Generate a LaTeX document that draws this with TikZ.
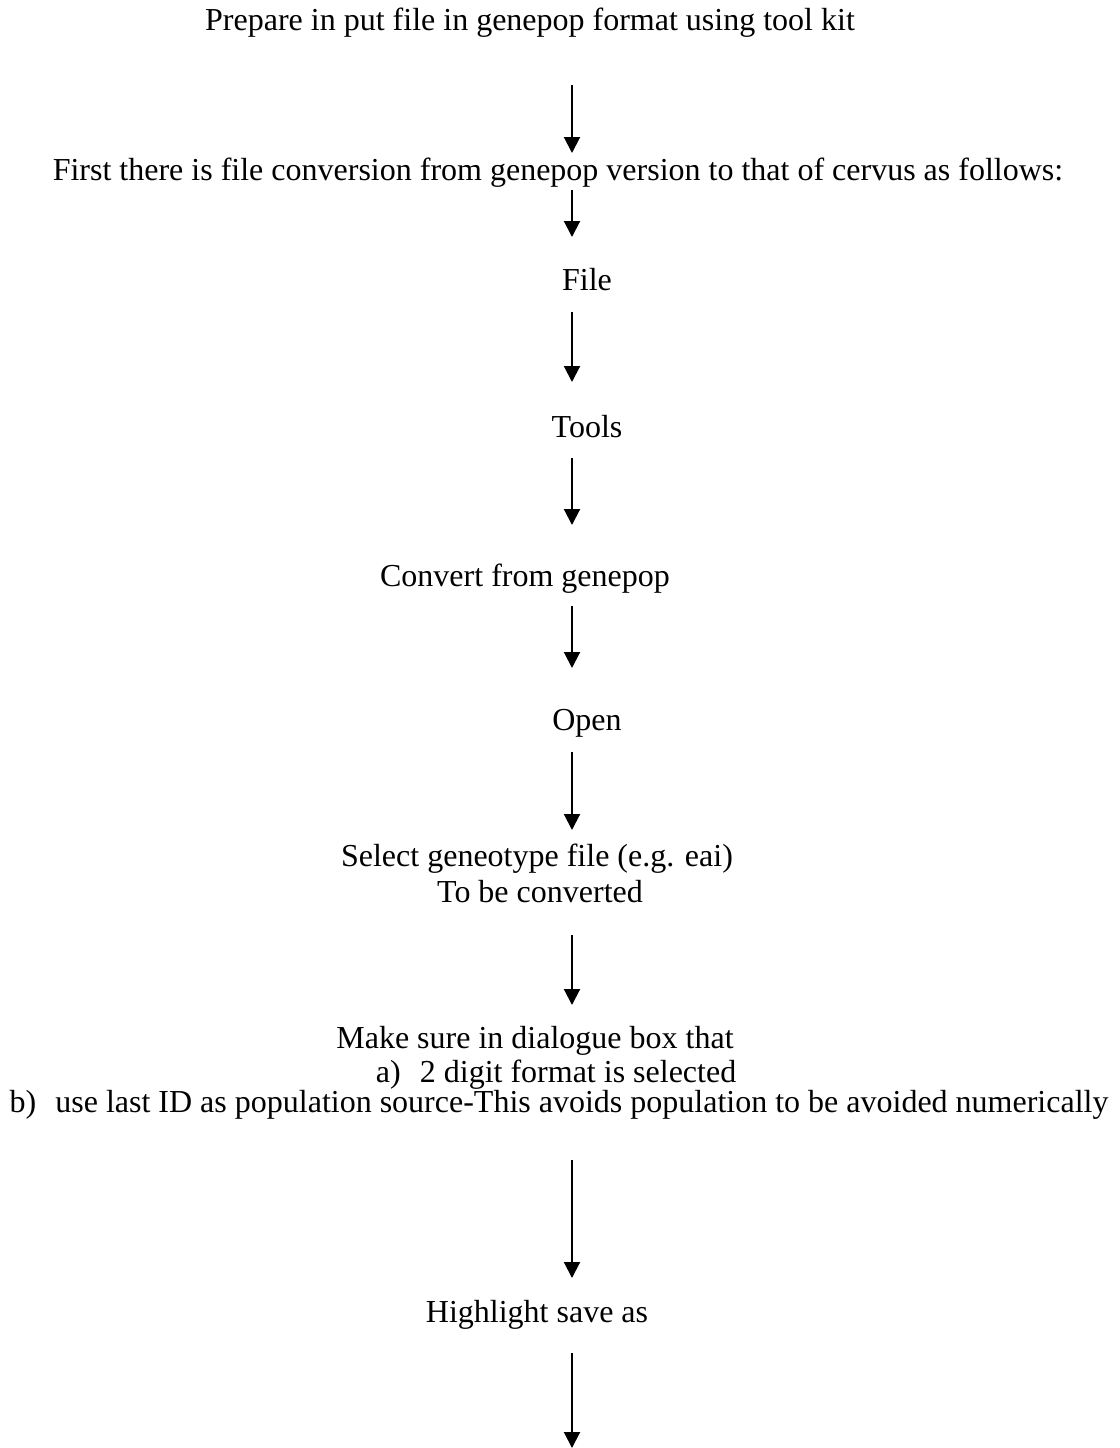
\documentclass[tikz,border=0pt]{standalone}
\usepackage{fontspec}
\setmainfont{Liberation Serif}
\usetikzlibrary{arrows.meta}
\begin{document}
\begin{tikzpicture}[x=0.5pt,y=-0.5pt,
  lbl/.style={anchor=base,inner sep=0pt,font=\fontsize{16}{18}\selectfont},
  arr/.style={line width=1pt,-{Triangle[width=8pt,length=8pt]}}]
\useasboundingbox (0,0) rectangle (1120,1448);
% text nodes
\node[lbl] (t1) at (530,30) {Prepare in put file in genepop format using tool kit};
\node[lbl] (t2) at (558,180) {First there is file conversion from genepop version to that of cervus as follows:};
\node[lbl] (t3) at (587,290) {File};
\node[lbl] (t4) at (587,437) {Tools};
\node[lbl] (t5) at (525,586) {Convert from genepop};
\node[lbl] (t6) at (587,730) {Open};
\node[lbl] (t7) at (537,866) {Select geneotype file (e.g. eai)};
\node[lbl] (t7b) at (540,902) {To be converted};
\node[lbl] (t8) at (535,1048) {Make sure in dialogue box that};
\node[lbl] (t8a) at (556,1082) {a)\hspace{0.6em}2 digit format is selected};
\node[lbl] (t8b) at (559,1112) {b)\hspace{0.6em}use last ID as population source-This avoids population to be avoided numerically};
\node[lbl] (t9) at (537,1322) {Highlight save as};
% arrow end points
\coordinate (a1s) at (572,85);   \coordinate (a1e) at (572,153);
\coordinate (a2s) at (572,190);  \coordinate (a2e) at (572,237);
\coordinate (a3s) at (572,312);  \coordinate (a3e) at (572,382);
\coordinate (a4s) at (572,458);  \coordinate (a4e) at (572,525);
\coordinate (a5s) at (572,606);  \coordinate (a5e) at (572,668);
\coordinate (a6s) at (572,752);  \coordinate (a6e) at (572,830);
\coordinate (a7s) at (572,935);  \coordinate (a7e) at (572,1005);
\coordinate (a8s) at (572,1160); \coordinate (a8e) at (572,1278);
\coordinate (a9s) at (572,1353); \coordinate (a9e) at (572,1448);
\draw[arr] (a1s) -- (a1e);
\draw[arr] (a2s) -- (a2e);
\draw[arr] (a3s) -- (a3e);
\draw[arr] (a4s) -- (a4e);
\draw[arr] (a5s) -- (a5e);
\draw[arr] (a6s) -- (a6e);
\draw[arr] (a7s) -- (a7e);
\draw[arr] (a8s) -- (a8e);
\draw[arr] (a9s) -- (a9e);
\end{tikzpicture}
\end{document}
